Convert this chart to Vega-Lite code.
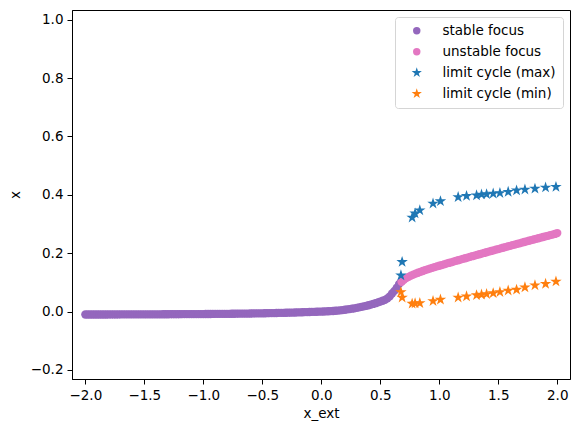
{
  "$schema": "https://vega.github.io/schema/vega-lite/v6.json",
  "width": 498,
  "height": 369,
  "autosize": {"type": "none"},
  "padding": {"left": 72, "top": 10, "right": 8, "bottom": 53},
  "background": "white",
  "config": {
    "font": "DejaVu Sans",
    "view": {"stroke": "black", "strokeWidth": 1},
    "axis": {
      "grid": false,
      "domainColor": "black",
      "tickColor": "black",
      "tickSize": 5,
      "labelFontSize": 13.5,
      "labelColor": "black",
      "labelPadding": 4,
      "titleFontSize": 13.5,
      "titleFontWeight": "normal",
      "titleColor": "black"
    },
    "legend": {
      "labelFontSize": 13.5,
      "labelColor": "black"
    }
  },
  "data": {
    "values": [
      {"s":"stable focus","x":-2.00,"y":-0.0100},{"s":"stable focus","x":-1.98,"y":-0.0100},{"s":"stable focus","x":-1.96,"y":-0.0100},{"s":"stable focus","x":-1.94,"y":-0.0100},{"s":"stable focus","x":-1.92,"y":-0.0100},{"s":"stable focus","x":-1.90,"y":-0.0100},{"s":"stable focus","x":-1.88,"y":-0.0100},{"s":"stable focus","x":-1.86,"y":-0.0100},{"s":"stable focus","x":-1.84,"y":-0.0100},{"s":"stable focus","x":-1.82,"y":-0.0100},{"s":"stable focus","x":-1.80,"y":-0.0099},{"s":"stable focus","x":-1.78,"y":-0.0099},{"s":"stable focus","x":-1.76,"y":-0.0099},{"s":"stable focus","x":-1.74,"y":-0.0099},{"s":"stable focus","x":-1.72,"y":-0.0099},{"s":"stable focus","x":-1.70,"y":-0.0098},{"s":"stable focus","x":-1.68,"y":-0.0098},{"s":"stable focus","x":-1.66,"y":-0.0098},{"s":"stable focus","x":-1.64,"y":-0.0097},{"s":"stable focus","x":-1.62,"y":-0.0097},{"s":"stable focus","x":-1.60,"y":-0.0097},{"s":"stable focus","x":-1.58,"y":-0.0096},{"s":"stable focus","x":-1.56,"y":-0.0096},{"s":"stable focus","x":-1.54,"y":-0.0096},{"s":"stable focus","x":-1.52,"y":-0.0095},{"s":"stable focus","x":-1.50,"y":-0.0095},{"s":"stable focus","x":-1.48,"y":-0.0095},{"s":"stable focus","x":-1.46,"y":-0.0094},{"s":"stable focus","x":-1.44,"y":-0.0094},{"s":"stable focus","x":-1.42,"y":-0.0094},{"s":"stable focus","x":-1.40,"y":-0.0093},{"s":"stable focus","x":-1.38,"y":-0.0093},{"s":"stable focus","x":-1.36,"y":-0.0093},{"s":"stable focus","x":-1.34,"y":-0.0092},{"s":"stable focus","x":-1.32,"y":-0.0092},{"s":"stable focus","x":-1.30,"y":-0.0092},{"s":"stable focus","x":-1.28,"y":-0.0091},{"s":"stable focus","x":-1.26,"y":-0.0091},{"s":"stable focus","x":-1.24,"y":-0.0091},{"s":"stable focus","x":-1.22,"y":-0.0090},{"s":"stable focus","x":-1.20,"y":-0.0090},{"s":"stable focus","x":-1.18,"y":-0.0089},{"s":"stable focus","x":-1.16,"y":-0.0089},{"s":"stable focus","x":-1.14,"y":-0.0088},{"s":"stable focus","x":-1.12,"y":-0.0088},{"s":"stable focus","x":-1.10,"y":-0.0087},{"s":"stable focus","x":-1.08,"y":-0.0087},{"s":"stable focus","x":-1.06,"y":-0.0086},{"s":"stable focus","x":-1.04,"y":-0.0086},{"s":"stable focus","x":-1.02,"y":-0.0085},{"s":"stable focus","x":-1.00,"y":-0.0085},{"s":"stable focus","x":-0.98,"y":-0.0084},{"s":"stable focus","x":-0.96,"y":-0.0083},{"s":"stable focus","x":-0.94,"y":-0.0083},{"s":"stable focus","x":-0.92,"y":-0.0082},{"s":"stable focus","x":-0.90,"y":-0.0081},{"s":"stable focus","x":-0.88,"y":-0.0080},{"s":"stable focus","x":-0.86,"y":-0.0080},{"s":"stable focus","x":-0.84,"y":-0.0079},{"s":"stable focus","x":-0.82,"y":-0.0078},{"s":"stable focus","x":-0.80,"y":-0.0077},{"s":"stable focus","x":-0.78,"y":-0.0076},{"s":"stable focus","x":-0.76,"y":-0.0075},{"s":"stable focus","x":-0.74,"y":-0.0074},{"s":"stable focus","x":-0.72,"y":-0.0073},{"s":"stable focus","x":-0.70,"y":-0.0072},{"s":"stable focus","x":-0.68,"y":-0.0071},{"s":"stable focus","x":-0.66,"y":-0.0070},{"s":"stable focus","x":-0.64,"y":-0.0069},{"s":"stable focus","x":-0.62,"y":-0.0068},{"s":"stable focus","x":-0.60,"y":-0.0066},{"s":"stable focus","x":-0.58,"y":-0.0065},{"s":"stable focus","x":-0.56,"y":-0.0064},{"s":"stable focus","x":-0.54,"y":-0.0062},{"s":"stable focus","x":-0.52,"y":-0.0061},{"s":"stable focus","x":-0.50,"y":-0.0059},{"s":"stable focus","x":-0.48,"y":-0.0058},{"s":"stable focus","x":-0.46,"y":-0.0056},{"s":"stable focus","x":-0.44,"y":-0.0054},{"s":"stable focus","x":-0.42,"y":-0.0053},{"s":"stable focus","x":-0.40,"y":-0.0051},{"s":"stable focus","x":-0.38,"y":-0.0049},{"s":"stable focus","x":-0.36,"y":-0.0047},{"s":"stable focus","x":-0.34,"y":-0.0045},{"s":"stable focus","x":-0.32,"y":-0.0043},{"s":"stable focus","x":-0.30,"y":-0.0041},{"s":"stable focus","x":-0.28,"y":-0.0039},{"s":"stable focus","x":-0.26,"y":-0.0037},{"s":"stable focus","x":-0.24,"y":-0.0034},{"s":"stable focus","x":-0.22,"y":-0.0032},{"s":"stable focus","x":-0.20,"y":-0.0029},{"s":"stable focus","x":-0.18,"y":-0.0027},{"s":"stable focus","x":-0.16,"y":-0.0024},{"s":"stable focus","x":-0.14,"y":-0.0021},{"s":"stable focus","x":-0.12,"y":-0.0018},{"s":"stable focus","x":-0.10,"y":-0.0015},{"s":"stable focus","x":-0.08,"y":-0.0012},{"s":"stable focus","x":-0.06,"y":-0.0009},{"s":"stable focus","x":-0.04,"y":-0.0006},{"s":"stable focus","x":-0.02,"y":-0.0003},{"s":"stable focus","x":0.00,"y":0.0000},{"s":"stable focus","x":0.02,"y":0.0003},{"s":"stable focus","x":0.04,"y":0.0007},{"s":"stable focus","x":0.06,"y":0.0010},{"s":"stable focus","x":0.08,"y":0.0015},{"s":"stable focus","x":0.10,"y":0.0020},{"s":"stable focus","x":0.12,"y":0.0027},{"s":"stable focus","x":0.14,"y":0.0035},{"s":"stable focus","x":0.16,"y":0.0043},{"s":"stable focus","x":0.18,"y":0.0052},{"s":"stable focus","x":0.20,"y":0.0062},{"s":"stable focus","x":0.22,"y":0.0073},{"s":"stable focus","x":0.24,"y":0.0085},{"s":"stable focus","x":0.26,"y":0.0098},{"s":"stable focus","x":0.28,"y":0.0112},{"s":"stable focus","x":0.30,"y":0.0127},{"s":"stable focus","x":0.32,"y":0.0143},{"s":"stable focus","x":0.34,"y":0.0160},{"s":"stable focus","x":0.36,"y":0.0178},{"s":"stable focus","x":0.38,"y":0.0197},{"s":"stable focus","x":0.40,"y":0.0217},{"s":"stable focus","x":0.42,"y":0.0238},{"s":"stable focus","x":0.44,"y":0.0261},{"s":"stable focus","x":0.46,"y":0.0286},{"s":"stable focus","x":0.48,"y":0.0313},{"s":"stable focus","x":0.50,"y":0.0343},{"s":"stable focus","x":0.52,"y":0.0370},{"s":"stable focus","x":0.54,"y":0.0400},{"s":"stable focus","x":0.56,"y":0.0450},{"s":"stable focus","x":0.58,"y":0.0520},{"s":"stable focus","x":0.60,"y":0.0620},{"s":"stable focus","x":0.62,"y":0.0710},{"s":"stable focus","x":0.64,"y":0.0820},{"s":"stable focus","x":0.66,"y":0.0950},{"s":"stable focus","x":0.68,"y":0.1040},
      {"s":"unstable focus","x":0.68,"y":0.1020},{"s":"unstable focus","x":0.70,"y":0.1090},{"s":"unstable focus","x":0.72,"y":0.1145},{"s":"unstable focus","x":0.74,"y":0.1190},{"s":"unstable focus","x":0.76,"y":0.1230},{"s":"unstable focus","x":0.78,"y":0.1265},{"s":"unstable focus","x":0.80,"y":0.1300},{"s":"unstable focus","x":0.82,"y":0.1330},{"s":"unstable focus","x":0.84,"y":0.1360},{"s":"unstable focus","x":0.86,"y":0.1390},{"s":"unstable focus","x":0.88,"y":0.1418},{"s":"unstable focus","x":0.90,"y":0.1445},{"s":"unstable focus","x":0.92,"y":0.1472},{"s":"unstable focus","x":0.94,"y":0.1498},{"s":"unstable focus","x":0.96,"y":0.1523},{"s":"unstable focus","x":0.98,"y":0.1547},{"s":"unstable focus","x":1.00,"y":0.1570},{"s":"unstable focus","x":1.02,"y":0.1594},{"s":"unstable focus","x":1.04,"y":0.1618},{"s":"unstable focus","x":1.06,"y":0.1641},{"s":"unstable focus","x":1.08,"y":0.1665},{"s":"unstable focus","x":1.10,"y":0.1688},{"s":"unstable focus","x":1.12,"y":0.1711},{"s":"unstable focus","x":1.14,"y":0.1735},{"s":"unstable focus","x":1.16,"y":0.1758},{"s":"unstable focus","x":1.18,"y":0.1781},{"s":"unstable focus","x":1.20,"y":0.1804},{"s":"unstable focus","x":1.22,"y":0.1827},{"s":"unstable focus","x":1.24,"y":0.1850},{"s":"unstable focus","x":1.26,"y":0.1873},{"s":"unstable focus","x":1.28,"y":0.1896},{"s":"unstable focus","x":1.30,"y":0.1918},{"s":"unstable focus","x":1.32,"y":0.1941},{"s":"unstable focus","x":1.34,"y":0.1963},{"s":"unstable focus","x":1.36,"y":0.1986},{"s":"unstable focus","x":1.38,"y":0.2008},{"s":"unstable focus","x":1.40,"y":0.2031},{"s":"unstable focus","x":1.42,"y":0.2053},{"s":"unstable focus","x":1.44,"y":0.2075},{"s":"unstable focus","x":1.46,"y":0.2098},{"s":"unstable focus","x":1.48,"y":0.2120},{"s":"unstable focus","x":1.50,"y":0.2142},{"s":"unstable focus","x":1.52,"y":0.2164},{"s":"unstable focus","x":1.54,"y":0.2186},{"s":"unstable focus","x":1.56,"y":0.2208},{"s":"unstable focus","x":1.58,"y":0.2230},{"s":"unstable focus","x":1.60,"y":0.2252},{"s":"unstable focus","x":1.62,"y":0.2274},{"s":"unstable focus","x":1.64,"y":0.2296},{"s":"unstable focus","x":1.66,"y":0.2317},{"s":"unstable focus","x":1.68,"y":0.2339},{"s":"unstable focus","x":1.70,"y":0.2361},{"s":"unstable focus","x":1.72,"y":0.2382},{"s":"unstable focus","x":1.74,"y":0.2404},{"s":"unstable focus","x":1.76,"y":0.2425},{"s":"unstable focus","x":1.78,"y":0.2447},{"s":"unstable focus","x":1.80,"y":0.2468},{"s":"unstable focus","x":1.82,"y":0.2490},{"s":"unstable focus","x":1.84,"y":0.2511},{"s":"unstable focus","x":1.86,"y":0.2532},{"s":"unstable focus","x":1.88,"y":0.2554},{"s":"unstable focus","x":1.90,"y":0.2575},{"s":"unstable focus","x":1.92,"y":0.2596},{"s":"unstable focus","x":1.94,"y":0.2617},{"s":"unstable focus","x":1.96,"y":0.2638},{"s":"unstable focus","x":1.98,"y":0.2659},{"s":"unstable focus","x":2.00,"y":0.2690},
      {"s":"limit cycle (max)","x":0.675,"y":0.124},{"s":"limit cycle (max)","x":0.685,"y":0.170},{"s":"limit cycle (max)","x":0.770,"y":0.322},{"s":"limit cycle (max)","x":0.795,"y":0.336},{"s":"limit cycle (max)","x":0.835,"y":0.347},{"s":"limit cycle (max)","x":0.947,"y":0.370},{"s":"limit cycle (max)","x":1.010,"y":0.378},{"s":"limit cycle (max)","x":1.160,"y":0.392},{"s":"limit cycle (max)","x":1.231,"y":0.396},{"s":"limit cycle (max)","x":1.316,"y":0.398},{"s":"limit cycle (max)","x":1.358,"y":0.401},{"s":"limit cycle (max)","x":1.401,"y":0.402},{"s":"limit cycle (max)","x":1.457,"y":0.404},{"s":"limit cycle (max)","x":1.514,"y":0.406},{"s":"limit cycle (max)","x":1.584,"y":0.410},{"s":"limit cycle (max)","x":1.655,"y":0.415},{"s":"limit cycle (max)","x":1.726,"y":0.418},{"s":"limit cycle (max)","x":1.811,"y":0.421},{"s":"limit cycle (max)","x":1.901,"y":0.425},{"s":"limit cycle (max)","x":1.989,"y":0.427},
      {"s":"limit cycle (min)","x":0.675,"y":0.067},{"s":"limit cycle (min)","x":0.685,"y":0.048},{"s":"limit cycle (min)","x":0.770,"y":0.027},{"s":"limit cycle (min)","x":0.795,"y":0.028},{"s":"limit cycle (min)","x":0.835,"y":0.029},{"s":"limit cycle (min)","x":0.947,"y":0.036},{"s":"limit cycle (min)","x":1.010,"y":0.041},{"s":"limit cycle (min)","x":1.160,"y":0.048},{"s":"limit cycle (min)","x":1.231,"y":0.052},{"s":"limit cycle (min)","x":1.316,"y":0.056},{"s":"limit cycle (min)","x":1.358,"y":0.058},{"s":"limit cycle (min)","x":1.401,"y":0.060},{"s":"limit cycle (min)","x":1.457,"y":0.063},{"s":"limit cycle (min)","x":1.514,"y":0.067},{"s":"limit cycle (min)","x":1.584,"y":0.072},{"s":"limit cycle (min)","x":1.655,"y":0.075},{"s":"limit cycle (min)","x":1.726,"y":0.083},{"s":"limit cycle (min)","x":1.811,"y":0.090},{"s":"limit cycle (min)","x":1.901,"y":0.095},{"s":"limit cycle (min)","x":1.989,"y":0.103}
    ]
  },
  "mark": {"type": "point", "filled": true, "opacity": 1, "size": 69},
  "encoding": {
    "x": {
      "field": "x", "type": "quantitative",
      "scale": {"domain": [-2.113, 2.108], "nice": false, "zero": false},
      "axis": {"values": [-2, -1.5, -1, -0.5, 0, 0.5, 1, 1.5, 2], "format": ".1f", "title": "x_ext", "titlePadding": 5}
    },
    "y": {
      "field": "y", "type": "quantitative",
      "scale": {"domain": [-0.231, 1.033], "nice": false, "zero": false},
      "axis": {"values": [-0.2, 0, 0.2, 0.4, 0.6, 0.8, 1.0], "format": ".1f", "title": "x", "titlePadding": 8}
    },
    "color": {
      "field": "s", "type": "nominal",
      "scale": {
        "domain": ["stable focus", "unstable focus", "limit cycle (max)", "limit cycle (min)"],
        "range": ["#9467bd", "#e377c2", "#1f77b4", "#ff7f0e"]
      },
      "legend": {
        "title": null,
        "orient": "top-right",
        "offset": 7,
        "padding": 7,
        "symbolOffset": 8,
        "labelOffset": 19,
        "rowPadding": 6,
        "symbolSize": 55,
        "strokeColor": "#d5d5d5",
        "fillColor": "white",
        "cornerRadius": 3
      }
    },
    "shape": {
      "field": "s", "type": "nominal",
      "scale": {
        "domain": ["stable focus", "unstable focus", "limit cycle (max)", "limit cycle (min)"],
        "range": ["circle", "circle", "M0,-1.45L0.326,-0.448L1.379,-0.448L0.527,0.171L0.852,1.173L0,0.554L-0.852,1.173L-0.527,0.171L-1.379,-0.448L-0.326,-0.448Z", "M0,-1.45L0.326,-0.448L1.379,-0.448L0.527,0.171L0.852,1.173L0,0.554L-0.852,1.173L-0.527,0.171L-1.379,-0.448L-0.326,-0.448Z"]
      }
    }
  }
}
